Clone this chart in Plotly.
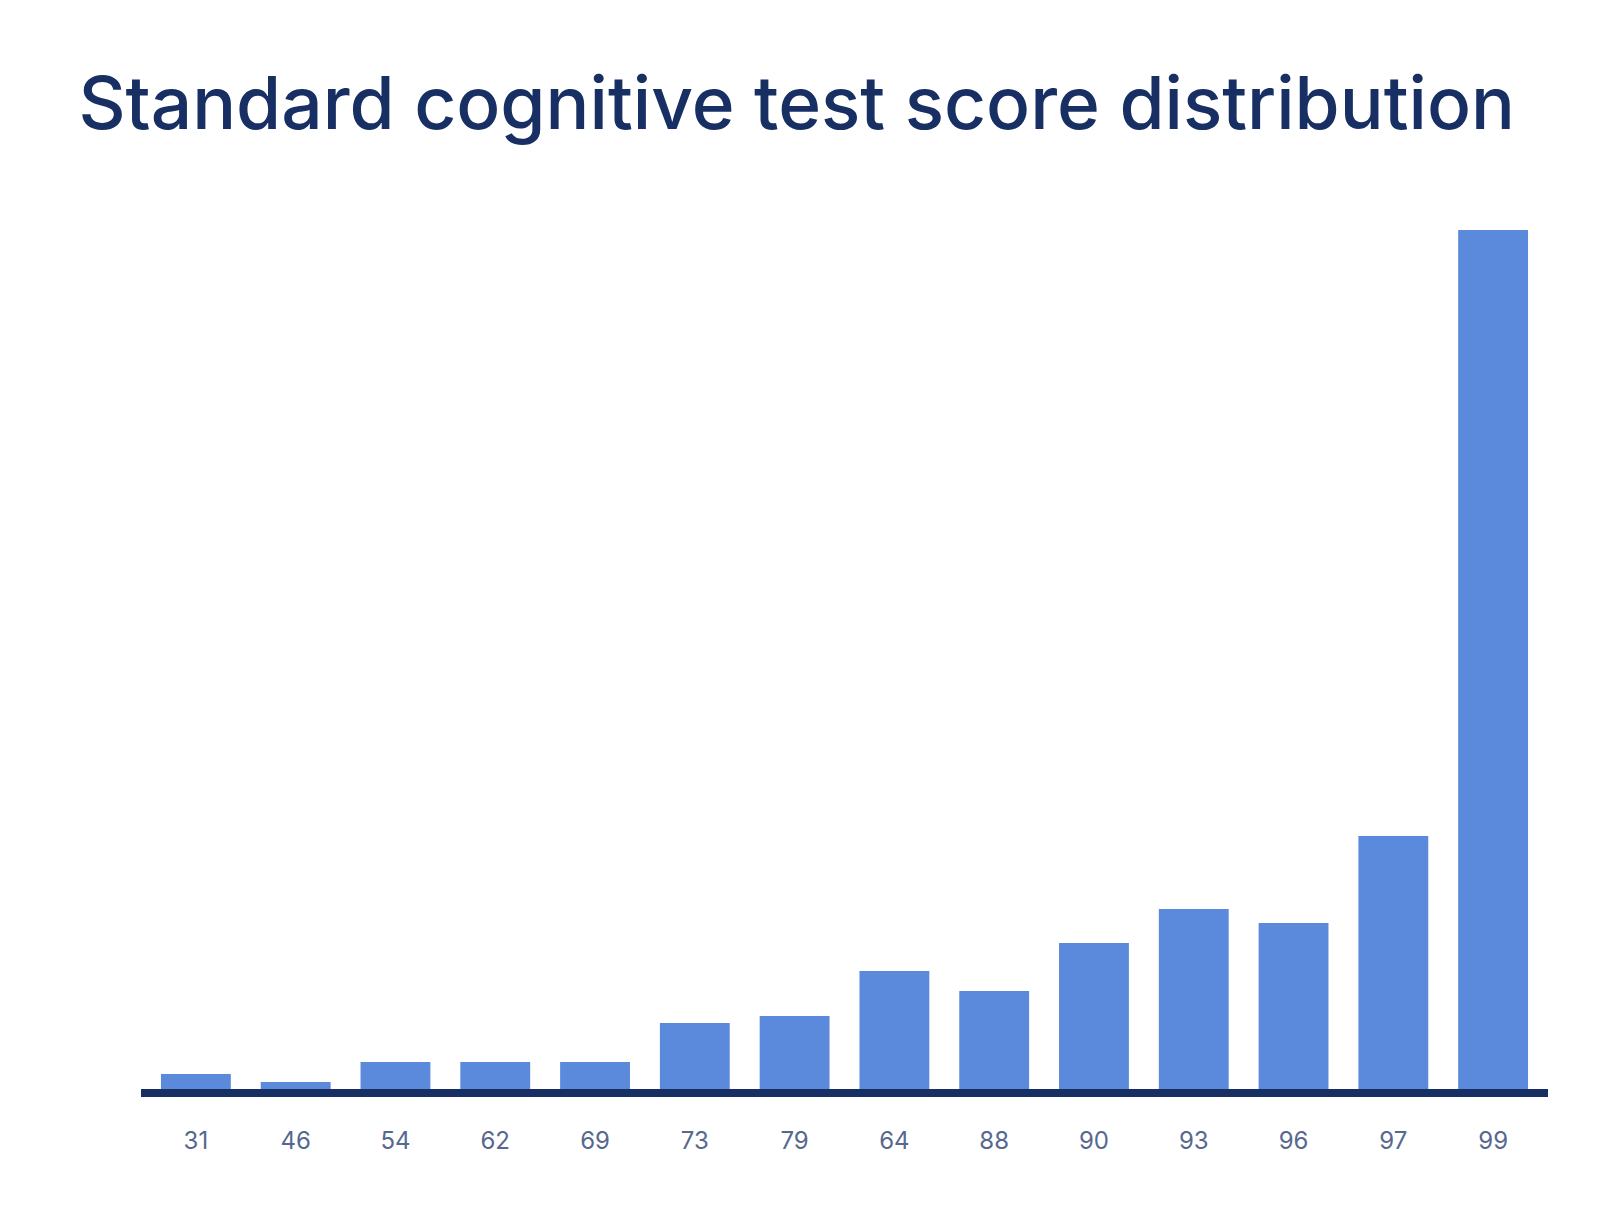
import plotly.graph_objects as go

# score labels as printed under the bars (the 8th really reads "64")
score_labels = ["31", "46", "54", "62", "69", "73", "79", "64", "88", "90", "93", "96", "97", "99"]
# bar heights (relative units)
bar_heights = [15, 7, 27, 27, 27, 66, 73, 118, 98, 146, 180, 166, 253, 859]

positions = list(range(len(score_labels)))

BAR_BLUE = "#5b89dc"
NAVY = "#172f63"
TICK_GREY = "#56688f"

fig = go.Figure()
fig.add_trace(go.Bar(
    x=positions, y=bar_heights,
    marker=dict(color=BAR_BLUE, line=dict(width=0)),
    width=0.70,
    hoverinfo="skip",
))

fig.update_layout(
    width=1600, height=1207,
    margin=dict(l=133, r=60, t=181, b=126),
    paper_bgcolor="white",
    plot_bgcolor="white",
    showlegend=False,
    title=dict(
        text="Standard cognitive test score distribution",
        font=dict(family="Inter, Lato, sans-serif", size=73, weight=500, color=NAVY),
        xref="container", yref="container",
        x=0.044, xanchor="left",
        y=1 - 95 / 1207, yanchor="middle",
    ),
    xaxis=dict(
        tickmode="array", tickvals=positions, ticktext=score_labels,
        range=[-0.55, 13.55],
        showgrid=False, zeroline=False,
        showline=True, linecolor=NAVY, linewidth=8,
        ticks="outside", ticklen=23, tickcolor="rgba(0,0,0,0)",
        tickfont=dict(family="Inter, Lato, sans-serif", size=24, color=TICK_GREY),
    ),
    yaxis=dict(
        range=[0, 900],
        visible=False,
        showgrid=False, zeroline=False,
    ),
)

fig.write_html("out.html")
